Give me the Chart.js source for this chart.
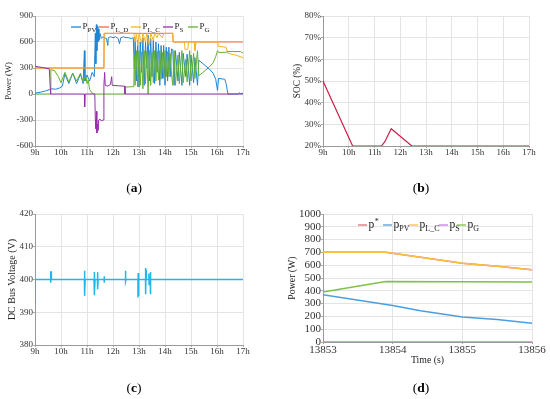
<!DOCTYPE html>
<html>
<head>
<meta charset="utf-8">
<script src="https://cdn.jsdelivr.net/npm/chart.js@4.4.0/dist/chart.umd.min.js"></script>
<style>
  body { margin: 0; background: #fff; }
  #wrap { position: relative; width: 550px; height: 399px; overflow: hidden; }
  canvas { position: absolute; }
  .lab { position: absolute; width: 40px; text-align: center; line-height: 16px;
         font: 13.5px "Liberation Serif", serif; color: #000; }
</style>
</head>
<body>
<div id="wrap">
  <canvas id="chartA" width="275" height="200" style="left:0;top:0"></canvas>
  <canvas id="chartB" width="275" height="200" style="left:275px;top:0"></canvas>
  <canvas id="chartC" width="275" height="199" style="left:0;top:200px"></canvas>
  <canvas id="chartD" width="275" height="199" style="left:275px;top:200px"></canvas>
  <div class="lab" style="left:114px;top:180px">(<b>a</b>)</div>
  <div class="lab" style="left:401px;top:180px">(<b>b</b>)</div>
  <div class="lab" style="left:114px;top:380px">(<b>c</b>)</div>
  <div class="lab" style="left:401px;top:380px">(<b>d</b>)</div>
</div>
<script>
// === DATA (a): power flows, [hour, W] ===
const hourTicks = [9, 10, 11, 12, 13, 14, 15, 16, 17];

const aPV = [[9.0,10],[9.2,20],[9.4,35],[9.55,50],[9.65,60],[9.8,55],[9.95,70],[10.05,90],[10.15,230],[10.3,120],
  [10.45,240],[10.6,120],[10.75,230],[10.85,120],[10.9,500],[10.92,150],[11.0,220],[11.1,150],[11.2,250],[11.28,200],
  [11.32,700],[11.34,350],[11.36,800],[11.38,500],[11.4,780],[11.42,600],[11.44,750],[11.46,620],[11.5,700],[11.55,640],
  [11.6,660],[11.65,650],[11.75,640],[11.8,560],[11.82,650],[11.9,660],[12.0,650],[12.1,660],[12.2,640],[12.25,580],
  [12.3,650],[12.4,660],[12.5,650],[12.6,650],[12.7,640],[12.78,650],[12.82,300],[12.85,650],[12.9,150],[12.95,620],
  [13.0,80],[13.05,600],[13.1,250],[13.15,650],[13.2,100],[13.25,600],[13.3,300],[13.35,680],[13.4,150],[13.45,640],
  [13.5,200],[13.55,620],[13.6,120],[13.65,600],[13.7,250],[13.75,580],[13.8,100],[13.85,560],[13.9,180],[13.95,560],
  [14.0,100],[14.05,540],[14.1,150],[14.15,540],[14.2,200],[14.25,520],[14.3,510],[14.35,100],[14.4,500],[14.5,150],
  [14.55,480],[14.65,100],[14.7,470],[14.8,200],[14.85,460],[14.95,100],[15.0,450],[15.1,130],[15.15,420],[15.25,100],
  [15.3,390],[15.5,340],[15.7,290],[15.85,240],[15.95,170],[16.02,40],[16.06,180],[16.3,170],[16.35,120],[16.42,0],
  [16.8,0],[16.85,15],[16.9,5],[17.0,10]];

const aLD = [[9,300],[11.65,300],[11.66,700],[14.3,700],[14.31,600],[17,600]];

const aLC = [[9,300],[11.65,300],[11.66,700],[12.8,700],[12.85,600],[12.9,700],[12.95,560],[13.0,700],[13.05,640],
  [13.1,580],[13.15,700],[13.25,600],[13.3,700],[13.4,560],[13.45,700],[13.55,620],[13.6,700],[13.7,650],[13.75,700],
  [13.9,650],[13.95,700],[14.3,700],[14.31,600],[14.75,600],[14.77,510],[14.88,520],[14.9,600],[15.13,600],[15.15,500],
  [15.2,600],[16.03,600],[16.05,550],[16.35,540],[16.42,470],[16.7,450],[17,420]];

const aS = [[9,320],[9.3,305],[9.55,290],[9.6,0],[10.9,0],[10.91,-150],[10.93,0],[11.3,0],[11.32,-300],[11.34,-400],
  [11.36,-200],[11.38,-450],[11.4,-350],[11.42,-420],[11.45,-300],[11.5,-290],[11.55,-310],[11.62,-300],[11.65,100],
  [11.68,250],[11.7,100],[11.8,90],[11.9,110],[11.95,200],[11.97,100],[12.2,95],[12.45,90],[12.46,0],[17,0]];

const aG = [[9.0,0],[9.6,0],[9.61,280],[9.75,270],[9.9,200],[10.0,130],[10.15,250],[10.3,140],[10.45,240],[10.6,150],
  [10.75,240],[10.85,140],[10.95,210],[11.0,120],[11.05,160],[11.1,50],[11.2,10],[11.3,0],[12.46,0],[12.47,80],
  [12.8,85],[12.82,450],[12.85,100],[12.9,500],[12.95,80],[13.0,500],[13.05,100],[13.1,480],[13.15,60],[13.2,500],
  [13.25,120],[13.3,490],[13.35,0],[13.4,500],[13.45,100],[13.5,480],[13.55,130],[13.6,500],[13.65,150],[13.7,490],
  [13.75,160],[13.8,500],[13.85,170],[13.9,480],[13.95,180],[14.0,500],[14.05,200],[14.1,490],[14.15,200],[14.2,470],
  [14.25,220],[14.3,100],[14.35,500],[14.4,100],[14.5,450],[14.55,120],[14.65,500],[14.7,130],[14.8,400],[14.85,140],
  [14.95,500],[15.0,150],[15.1,470],[15.15,180],[15.25,500],[15.3,210],[15.5,260],[15.7,310],[15.85,360],[15.95,430],
  [16.02,500],[16.06,480],[16.3,480],[16.42,490],[16.9,490],[17.0,470]];

// === DATA (b): state of charge, [hour, %] ===
const socTicks = [20, 30, 40, 50, 60, 70, 80];
const bSOC = [[9,50],[10.15,20],[11.27,20],[11.4,22],[11.65,28],[12.45,20],[17,20]];

// === DATA (c): DC bus voltage, [hour, V] ===
const voltTicks = [380, 390, 400, 410, 420];
const cBus = [[9.0,393],[9.005,400],
  [9.6,400],[9.6,402.5],[9.61,399],[9.62,402.5],[9.63,400],
  [10.9,400],[10.9,395],[10.91,402.7],[10.92,396],[10.93,400],
  [11.27,400],[11.27,402.3],[11.28,395.2],[11.29,402.3],[11.3,396],[11.31,400],
  [11.4,400],[11.4,397],[11.41,402.2],[11.42,397.5],[11.43,400],
  [11.66,400],[11.66,401],[11.665,399],[11.67,400],
  [12.48,400],[12.48,402.7],[12.49,399.5],[12.5,400],
  [12.96,400],[12.96,394.5],[12.97,402],[12.98,395],[12.99,400],
  [13.25,400],[13.25,403.5],[13.26,395.5],[13.27,403],[13.28,400],
  [13.38,400],[13.38,401.8],[13.39,398.5],[13.4,400],
  [13.43,400],[13.43,395.5],[13.44,402.3],[13.45,396],[13.46,400],
  [17,400]];

// === DATA (d): zoom on 13853-13856 s, [s, W] ===
const secTicks = [13853, 13854, 13855, 13856];
const dStar = [[13853,702],[13853.9,702],[13854.4,662],[13855,615],[13855.5,592],[13856,565]];
const dPV = [[13853,370],[13854,285],[13854.4,245],[13855,196],[13855.5,175],[13856,146]];
const dLC = [[13853,702],[13853.9,702],[13854.4,662],[13855,615],[13855.5,592],[13856,565]];
const dS = [[13853,0],[13856,0]];
const dG = [[13853,390],[13853.9,472],[13856,468]];

// === HELPERS ===
const SERIF = '"Liberation Serif", "Times New Roman", serif';
const pts = arr => arr.map(p => ({ x: p[0], y: p[1] }));

function line(data, color, order, width) {
  return { data: pts(data), borderColor: color, borderWidth: width || 1, pointRadius: 0,
           tension: 0, fill: false, order: order };
}

// little legend with sub/superscripts (Chart.js legend can't do them)
const subLegend = {
  id: 'subLegend',
  afterDraw(chart, args, o) {
    if (!o.items) return;
    const ctx = chart.ctx;
    ctx.save();
    ctx.textBaseline = 'middle';
    ctx.textAlign = 'left';
    o.items.forEach(it => {
      let x = it.x;
      ctx.strokeStyle = it.color;
      ctx.lineWidth = 1.3;
      ctx.beginPath(); ctx.moveTo(x, o.y); ctx.lineTo(x + o.line, o.y); ctx.stroke();
      x += o.line + 1.5;
      ctx.fillStyle = '#222';
      ctx.font = o.size + 'px ' + SERIF;
      ctx.fillText(it.main, x, o.y);
      x += ctx.measureText(it.main).width;
      ctx.font = o.small + 'px ' + SERIF;
      if (it.sub) ctx.fillText(it.sub, x, o.y + o.size * 0.3);
      if (it.sup) ctx.fillText(it.sup, x + 0.5, o.y - o.size * 0.25);
    });
    ctx.restore();
  }
};

function axis(o) {
  const horiz = o.pos === 'bottom';
  return {
    type: 'linear', position: o.pos, min: o.min, max: o.max,
    afterBuildTicks: s => { s.ticks = o.ticks.map(v => ({ value: v })); },
    afterFit: s => { if (horiz) s.height = o.fit; else s.width = o.fit; },
    ticks: { font: { family: SERIF, size: o.size }, color: '#333', padding: o.pad,
             maxRotation: 0, autoSkip: false, callback: o.fmt },
    grid: { color: '#e4e4e4', tickColor: '#aaa', tickLength: 2 },
    border: { color: '#9a9a9a' },
    title: o.title ? { display: true, text: o.title, color: '#222',
                       font: { family: SERIF, size: o.tsize }, padding: o.tpad } : { display: false }
  };
}

function baseOpts(pad, xs, ys, legend) {
  return {
    responsive: false, animation: false, events: [],
    layout: { padding: pad },
    plugins: { legend: { display: false }, tooltip: { enabled: false }, subLegend: legend || {} },
    scales: { x: xs, y: ys }
  };
}

const hourFmt = v => v + 'h';

// === CHART (a) ===
new Chart(document.getElementById('chartA'), {
  type: 'line',
  data: { datasets: [
    line(aLD, '#f0683a', 5),
    line(aPV, '#2085d2', 4),
    line(aLC, '#f7b322', 3),
    line(aG, '#62b030', 2),
    line(aS, '#9232a6', 1)
  ] },
  options: baseOpts({ left: 0, top: 16, right: 32, bottom: 34 },
    axis({ pos: 'bottom', min: 9, max: 17, ticks: hourTicks, fmt: hourFmt, size: 9, pad: -1, fit: 20 }),
    axis({ pos: 'left', min: -600, max: 900, ticks: [-600, -300, 0, 300, 600, 900], fmt: v => String(v),
           size: 9, pad: 0, fit: 35, title: 'Power (W)', tsize: 8.5, tpad: { top: 4 } }),
    { y: 27, line: 10, size: 9, small: 7, items: [
      { x: 71, color: '#2085d2', main: 'P', sub: 'PV' },
      { x: 99, color: '#f0683a', main: 'P', sub: 'L_D' },
      { x: 131, color: '#f7b322', main: 'P', sub: 'L_C' },
      { x: 163, color: '#9232a6', main: 'P', sub: 'S' },
      { x: 188, color: '#62b030', main: 'P', sub: 'G' }
    ] }),
  plugins: [subLegend]
});

// === CHART (b) ===
new Chart(document.getElementById('chartB'), {
  type: 'line',
  data: { datasets: [ line(bSOC, '#cc1f48', 1, 1.2) ] },
  options: baseOpts({ left: 0, top: 16, right: 21, bottom: 34 },
    axis({ pos: 'bottom', min: 9, max: 17, ticks: hourTicks, fmt: hourFmt, size: 9, pad: -1, fit: 20 }),
    axis({ pos: 'left', min: 20, max: 80, ticks: socTicks, fmt: v => v + '%',
           size: 9, pad: 0, fit: 48, title: 'SOC (%)', tsize: 9.3, tpad: { top: 17 } })),
  plugins: [subLegend]
});

// === CHART (c) ===
new Chart(document.getElementById('chartC'), {
  type: 'line',
  data: { datasets: [ line(cBus, '#1fb6ea', 1, 1.5) ] },
  options: baseOpts({ left: 0, top: 14, right: 32, bottom: 34 },
    axis({ pos: 'bottom', min: 9, max: 17, ticks: hourTicks, fmt: hourFmt, size: 9, pad: -1, fit: 20 }),
    axis({ pos: 'left', min: 380, max: 420, ticks: voltTicks, fmt: v => String(v),
           size: 9, pad: 0, fit: 35, title: 'DC Bus Voltage (V)', tsize: 10, tpad: { top: 6 } })),
  plugins: [subLegend]
});

// === CHART (d) ===
new Chart(document.getElementById('chartD'), {
  type: 'line',
  data: { datasets: [
    line(dStar, '#f06877', 5, 1.5),
    line(dPV, '#4a9fe2', 4, 1.5),
    line(dLC, '#f9c23c', 3, 1.5),
    line(dG, '#7fc04a', 2, 1.5),
    line(dS, '#c87ee0', 1, 1.5)
  ] },
  options: baseOpts({ left: 0, top: 14, right: 18, bottom: 29 },
    axis({ pos: 'bottom', min: 13853, max: 13856, ticks: secTicks, fmt: v => String(v), size: 11, pad: 0,
           fit: 28, title: 'Time (s)', tsize: 9.8, tpad: { top: 0, bottom: 4 } }),
    axis({ pos: 'left', min: 0, max: 1000, ticks: [0,100,200,300,400,500,600,700,800,900,1000], fmt: v => String(v),
           size: 11, pad: 0, fit: 48, title: 'Power (W)', tsize: 9.8, tpad: { top: 12 } }),
    { y: 25, line: 9, size: 11.5, small: 8, items: [
      { x: 83, color: '#f06877', main: 'p', sup: '*' },
      { x: 108, color: '#4a9fe2', main: 'p', sub: 'PV' },
      { x: 134, color: '#f9c23c', main: 'p', sub: 'L_C' },
      { x: 164, color: '#c87ee0', main: 'p', sub: 'S' },
      { x: 182, color: '#7fc04a', main: 'p', sub: 'G' }
    ] }),
  plugins: [subLegend]
});
</script>
</body>
</html>
